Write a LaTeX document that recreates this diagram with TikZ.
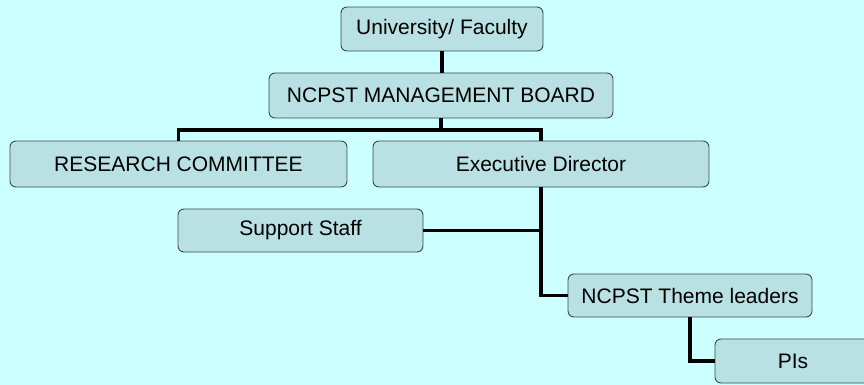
\documentclass[tikz,border=0pt]{standalone}
\usepackage{fontspec}
\setmainfont{Liberation Sans}
\definecolor{bgc}{HTML}{CCFFFF}
\definecolor{boxfill}{HTML}{B9E0E3}
\definecolor{boxline}{HTML}{3A4A4A}
\begin{document}
\begin{tikzpicture}[x=1pt,y=-1pt,
  orgbox/.style={draw=boxline, line width=0.9pt, fill=boxfill, rounded corners=6pt,
    inner sep=0pt, font=\fontsize{21}{24}\selectfont, text=black},
  link/.style={draw=black, line width=3.2pt}]
\fill[bgc] (0,0) rectangle (864,385);
\useasboundingbox (0,0) rectangle (864,385);
\node[orgbox, minimum width=202pt, minimum height=44pt] (uni) at (442,29) {University/ Faculty};
\node[orgbox, minimum width=344pt, minimum height=45pt] (board) at (441,95.5) {NCPST MANAGEMENT BOARD};
\node[orgbox, minimum width=337pt, minimum height=46pt] (rc) at (178.5,164) {RESEARCH COMMITTEE};
\node[orgbox, minimum width=336pt, minimum height=46pt] (ed) at (541,164) {Executive Director};
\node[orgbox, minimum width=245pt, minimum height=43pt] (ss) at (300.5,230.5) {Support Staff};
\node[orgbox, minimum width=244pt, minimum height=43pt] (tl) at (690,295.5) {NCPST Theme leaders};
\node[orgbox, minimum width=156pt, minimum height=44pt] (pi) at (793,361) {PIs};
\coordinate (bj) at (441,130);
\draw[link] (uni.south) -- (uni.south |- board.north);
\draw[link] (board.south) -- (bj);
\draw[link] (rc.north) |- (bj) -| (ed.north);
\draw[link] (ss.east) -- (ed.south |- ss.east);
\draw[link] (ed.south) |- (tl.west);
\draw[link] (tl.south) |- (pi.west);
\end{tikzpicture}
\end{document}
